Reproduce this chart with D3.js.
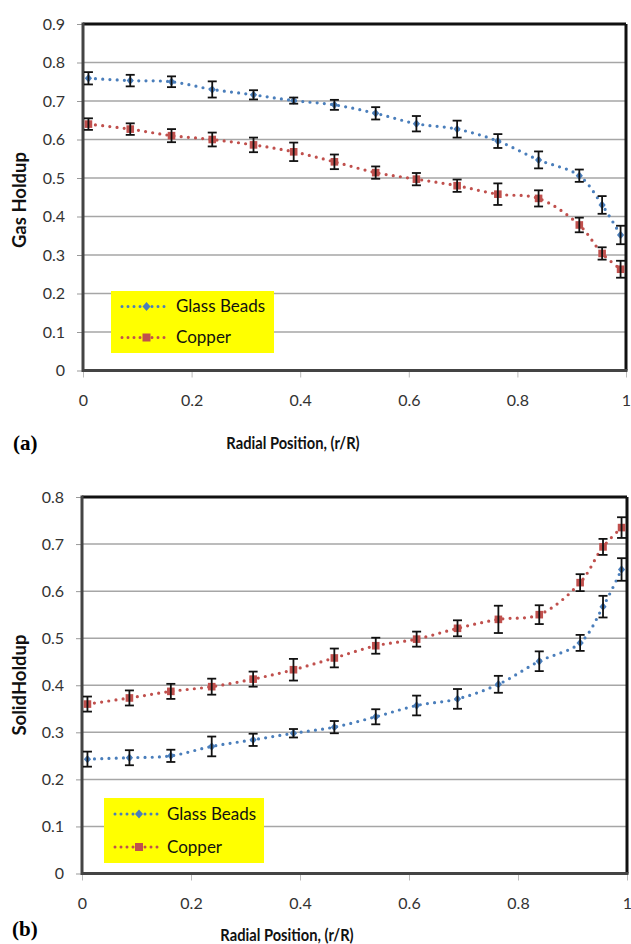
<!DOCTYPE html>
<html><head><meta charset="utf-8">
<script src="https://cdn.jsdelivr.net/npm/d3@7"></script>
<style>
html,body{margin:0;padding:0;background:#fff;}
svg{display:block;}
</style></head>
<body>
<svg id="chart" width="631" height="944"></svg>
<script>
// ---- data ----
const radialPos = [0.01, 0.087, 0.163, 0.238, 0.314, 0.388, 0.463, 0.539, 0.614, 0.689, 0.764, 0.839, 0.914, 0.956, 0.99];
const seriesNames = ["Glass Beads", "Copper"];
const gasGlass = [0.759, 0.753, 0.750, 0.730, 0.716, 0.701, 0.690, 0.668, 0.641, 0.627, 0.596, 0.547, 0.506, 0.430, 0.352];
const gasGlassErr = [0.016, 0.015, 0.014, 0.021, 0.012, 0.008, 0.013, 0.016, 0.020, 0.022, 0.018, 0.022, 0.016, 0.023, 0.024];
const gasCopper = [0.640, 0.627, 0.610, 0.600, 0.586, 0.568, 0.542, 0.514, 0.497, 0.480, 0.458, 0.447, 0.378, 0.304, 0.263];
const gasCopperErr = [0.015, 0.015, 0.017, 0.018, 0.019, 0.024, 0.019, 0.016, 0.016, 0.016, 0.028, 0.021, 0.019, 0.016, 0.022];
const solidGlass = [0.243, 0.246, 0.250, 0.270, 0.284, 0.298, 0.311, 0.333, 0.357, 0.371, 0.402, 0.451, 0.490, 0.567, 0.646];
const solidGlassErr = [0.016, 0.016, 0.013, 0.021, 0.013, 0.009, 0.013, 0.016, 0.021, 0.021, 0.018, 0.021, 0.017, 0.023, 0.024];
const solidCopper = [0.360, 0.373, 0.387, 0.397, 0.413, 0.433, 0.458, 0.484, 0.498, 0.521, 0.540, 0.550, 0.618, 0.694, 0.735];
const solidCopperErr = [0.016, 0.016, 0.016, 0.017, 0.016, 0.023, 0.020, 0.017, 0.016, 0.017, 0.029, 0.020, 0.018, 0.017, 0.022];
const xTicks = [0, 0.2, 0.4, 0.6, 0.8, 1];
const gasTicks = [0, 0.1, 0.2, 0.3, 0.4, 0.5, 0.6, 0.7, 0.8, 0.9];
const solidTicks = [0, 0.1, 0.2, 0.3, 0.4, 0.5, 0.6, 0.7, 0.8];

const COLORS = {glass: "#4a7ebb", copper: "#c0504d"};
const FONT = "Lato, 'Open Sans', sans-serif";
const svg = d3.select("#chart");

function panel(cfg) {
  const x = d3.scaleLinear().domain([0, 1]).range([cfg.x0, cfg.x1]);
  const y = d3.scaleLinear().domain([0, cfg.ymax]).range([cfg.y0, cfg.y1]);
  const g = svg.append("g");

  // gridlines
  g.append("g").selectAll("line").data(cfg.yTicks.filter(t => t > 0 && t < cfg.ymax - 1e-9)).join("line")
    .attr("x1", cfg.x0).attr("x2", cfg.x1)
    .attr("y1", d => y(d)).attr("y2", d => y(d))
    .attr("stroke", "#a6a6a6").attr("stroke-width", 1.5);

  // y axis
  const yAxis = d3.axisLeft(y).tickValues(cfg.yTicks).tickSize(6).tickPadding(12)
    .tickFormat(d => d === 0 ? "0" : d3.format(".1f")(d));
  const ya = g.append("g").attr("transform", `translate(${cfg.x0},0)`).call(yAxis);
  ya.select(".domain").remove();
  ya.selectAll(".tick line").attr("stroke", "#999").attr("stroke-width", 1);
  ya.selectAll(".tick text").attr("font-family", FONT).attr("font-size", 16).attr("fill", "#333");

  // x axis
  const xAxis = d3.axisBottom(x).tickValues(xTicks).tickSize(7).tickPadding(cfg.xPad)
    .tickFormat(d => d === 0 || d === 1 ? String(d) : d3.format(".1f")(d));
  const xa = g.append("g").attr("transform", `translate(0,${cfg.y0})`).call(xAxis);
  xa.select(".domain").remove();
  xa.selectAll(".tick line").attr("stroke", "#bbb").attr("stroke-width", 1);
  xa.selectAll(".tick text").attr("font-family", FONT).attr("font-size", 16).attr("fill", "#333");

  // frame
  g.append("line").attr("x1", cfg.x0).attr("x2", cfg.x1).attr("y1", cfg.y1).attr("y2", cfg.y1)
    .attr("stroke", "#111").attr("stroke-width", 3);
  g.append("line").attr("x1", cfg.x1).attr("x2", cfg.x1).attr("y1", cfg.y1).attr("y2", cfg.y0)
    .attr("stroke", "#111").attr("stroke-width", 3);
  g.append("line").attr("x1", cfg.x0).attr("x2", cfg.x0).attr("y1", cfg.y1 - 1.5).attr("y2", cfg.y0 + 1.5)
    .attr("stroke", "#444").attr("stroke-width", 3);
  g.append("line").attr("x1", cfg.x0).attr("x2", cfg.x1 + 1.5).attr("y1", cfg.y0).attr("y2", cfg.y0)
    .attr("stroke", "#444").attr("stroke-width", 3);

  const line = d3.line().x(d => x(d.x)).y(d => y(d.y)).curve(d3.curveCatmullRom.alpha(0.5));

  cfg.series.forEach(s => {
    const data = radialPos.map((xv, i) => ({x: xv, y: s.values[i], e: s.errs[i]}));
    g.append("path").datum(data).attr("d", line)
      .attr("fill", "none").attr("stroke", s.color).attr("stroke-width", 3.2)
      .attr("stroke-linecap", "round").attr("stroke-dasharray", "0 7.2");
    // markers
    if (s.shape === "square") {
      g.append("g").selectAll("rect").data(data).join("rect")
        .attr("x", d => x(d.x) - 3.8).attr("y", d => y(d.y) - 3.8)
        .attr("width", 7.6).attr("height", 7.6).attr("fill", s.color);
    } else {
      g.append("g").selectAll("path").data(data).join("path")
        .attr("transform", d => `translate(${x(d.x)},${y(d.y)})`)
        .attr("d", "M0,-4.2L3.6,0L0,4.2L-3.6,0Z").attr("fill", s.color);
    }
    // error bars
    const eb = g.append("g").attr("stroke", "#111").attr("stroke-width", 1.8);
    eb.selectAll(".v").data(data).join("line")
      .attr("x1", d => x(d.x)).attr("x2", d => x(d.x))
      .attr("y1", d => y(d.y - d.e)).attr("y2", d => y(d.y + d.e));
    eb.selectAll(".t").data(data).join("line")
      .attr("x1", d => x(d.x) - 4.5).attr("x2", d => x(d.x) + 4.5)
      .attr("y1", d => y(d.y + d.e)).attr("y2", d => y(d.y + d.e));
    eb.selectAll(".b").data(data).join("line")
      .attr("x1", d => x(d.x) - 4.5).attr("x2", d => x(d.x) + 4.5)
      .attr("y1", d => y(d.y - d.e)).attr("y2", d => y(d.y - d.e));
  });

  // legend
  const L = cfg.legend;
  g.append("rect").attr("x", L.x).attr("y", L.y).attr("width", L.w).attr("height", L.h).attr("fill", "#ffff00");
  cfg.series.forEach((s, i) => {
    const cy = L.y + L.rows[i];
    g.append("line").attr("x1", L.lx0).attr("x2", L.lx1).attr("y1", cy).attr("y2", cy)
      .attr("stroke", s.color).attr("stroke-width", 3).attr("stroke-linecap", "round").attr("stroke-dasharray", "0 6");
    const mx = (L.lx0 + L.lx1) / 2 + 2;
    if (s.shape === "square") {
      g.append("rect").attr("x", mx - 4).attr("y", cy - 4).attr("width", 8).attr("height", 8).attr("fill", s.color);
    } else {
      g.append("path").attr("transform", `translate(${mx},${cy})`).attr("d", "M0,-4.5L4,0L0,4.5L-4,0Z").attr("fill", s.color);
    }
    g.append("text").attr("x", L.tx).attr("y", cy).attr("dy", "0.35em")
      .attr("font-family", FONT).attr("font-size", 17).attr("fill", "#111").text(seriesNames[i]);
  });

  // titles
  g.append("text").attr("transform", `translate(${cfg.ylabX},${cfg.ylabY}) rotate(-90)`)
    .attr("text-anchor", "middle").attr("dy", "0.35em")
    .attr("font-family", FONT).attr("font-weight", "bold").attr("font-size", 18.5).attr("fill", "#111")
    .text(cfg.ylabel);
  g.append("text").attr("transform", `translate(${cfg.xlabX},${cfg.xlabY}) scale(0.84,1)`)
    .attr("text-anchor", "middle").attr("dy", "0.35em")
    .attr("font-family", FONT).attr("font-weight", "bold").attr("font-size", 17.5).attr("fill", "#111")
    .text("Radial Position, (r/R)");
  g.append("text").attr("x", cfg.tagX).attr("y", cfg.tagY).attr("dy", "0.35em")
    .attr("font-family", "'Liberation Serif', 'DejaVu Serif', serif").attr("font-weight", "bold")
    .attr("font-size", 21).attr("fill", "#000").text(cfg.tag);
}

panel({
  x0: 83, x1: 626, y0: 370.5, y1: 24, ymax: 0.9, yTicks: gasTicks, xPad: 17,
  series: [
    {values: gasGlass, errs: gasGlassErr, color: COLORS.glass, shape: "diamond"},
    {values: gasCopper, errs: gasCopperErr, color: COLORS.copper, shape: "square"}
  ],
  legend: {x: 111, y: 291, w: 163, h: 62, rows: [15.5, 46.5], lx0: 122, lx1: 167, tx: 176},
  ylabel: "Gas Holdup", ylabX: 20, ylabY: 200,
  xlabX: 293, xlabY: 443, tag: "(a)", tagX: 13, tagY: 443
});

panel({
  x0: 82, x1: 627, y0: 873.5, y1: 497, ymax: 0.8, yTicks: solidTicks, xPad: 17,
  series: [
    {values: solidGlass, errs: solidGlassErr, color: COLORS.glass, shape: "diamond"},
    {values: solidCopper, errs: solidCopperErr, color: COLORS.copper, shape: "square"}
  ],
  legend: {x: 104, y: 798, w: 160, h: 65, rows: [16, 49], lx0: 115, lx1: 159, tx: 167},
  ylabel: "SolidHoldup", ylabX: 20, ylabY: 685,
  xlabX: 287, xlabY: 935, tag: "(b)", tagX: 12, tagY: 929
});
</script>
</body></html>
